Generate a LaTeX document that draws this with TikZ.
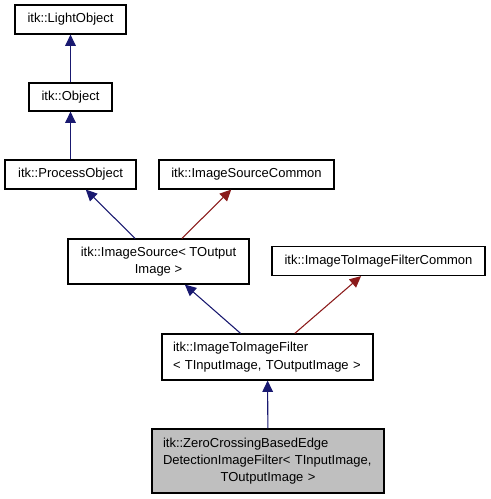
\documentclass[tikz,border=0pt]{standalone}
\usepackage{fontspec}
\setmainfont{Liberation Sans}
\usetikzlibrary{arrows.meta}
\definecolor{navyedge}{HTML}{191970}
\definecolor{rededge}{HTML}{8B1A1A}
\definecolor{boxgray}{HTML}{BFBFBF}
\tikzset{
  cls/.style={draw=black, line width=0.9pt, inner sep=0pt, align=center, font=\fontsize{9.75}{13}\selectfont},
  clsleft/.style={cls, align=left, inner xsep=8.25pt},
  pub/.style={navyedge, line width=0.8pt, -{Triangle[length=8.5pt,width=8pt]}},
  tpl/.style={rededge, line width=0.8pt, -{Triangle[length=8.5pt,width=8pt]}},
}
\begin{document}
\begin{tikzpicture}[x=0.75pt,y=0.75pt,yscale=-1,xscale=1]
\useasboundingbox (0,0) rectangle (491,499);

%Classes
\node[cls, minimum width=83.25pt, minimum height=21.75pt] (lightobj) at (70.5,19.5) {itk::LightObject};
\node[cls, minimum width=62.25pt, minimum height=21pt] (object) at (70.5,97) {itk::Object};
\node[cls, minimum width=98.25pt, minimum height=21.75pt] (procobj) at (70.5,174.5) {itk::ProcessObject};
\node[cls, minimum width=131.25pt, minimum height=21.75pt] (srccommon) at (246.5,174.5) {itk::ImageSourceCommon};
\node[cls, minimum width=135.75pt, minimum height=33.75pt] (imgsrc) at (158.5,261.5) {itk::ImageSource< TOutput\\Image >};
\node[cls, minimum width=159.75pt, minimum height=21.75pt] (i2icommon) at (378.5,261) {itk::ImageToImageFilterCommon};
\node[clsleft, text width=141.75pt, minimum height=34.5pt] (i2ifilter) at (267.5,357) {itk::ImageToImageFilter\\< TInputImage, TOutputImage >};
\node[clsleft, fill=boxgray, text width=157.5pt, minimum height=48pt] (zerocross) at (268,461) {itk::ZeroCrossingBasedEdge\\DetectionImageFilter< TInputImage,\\\makebox[\linewidth][c]{TOutputImage >}};

%Inheritance
\draw[pub] (object) -- (lightobj);
\draw[pub] (procobj) -- (object);
\draw[pub] (imgsrc) -- (procobj);
\draw[tpl] (imgsrc) -- (srccommon);
\draw[pub] (i2ifilter) -- (imgsrc);
\draw[tpl] (i2ifilter) -- (i2icommon);
\draw[pub] (zerocross) -- (i2ifilter);
\end{tikzpicture}
\end{document}
